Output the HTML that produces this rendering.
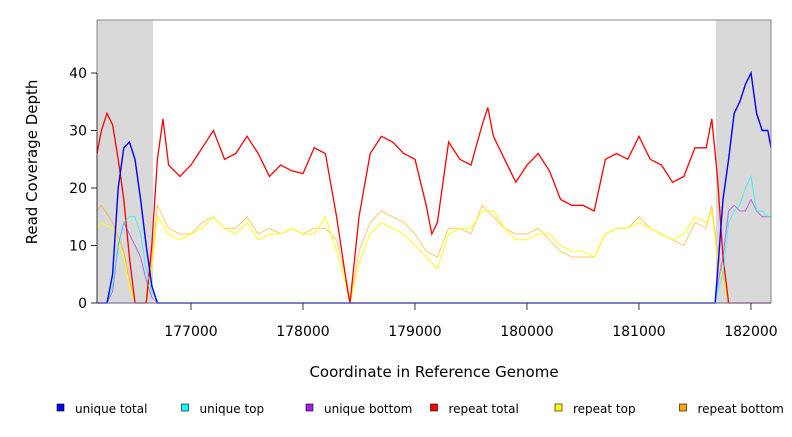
<!DOCTYPE html>
<html><head><meta charset="utf-8"><style>
body{margin:0;background:#fff;}
svg text{font-family:"DejaVu Sans","Liberation Sans",sans-serif;}
</style></head><body>
<svg id="chart" width="792" height="432" xmlns="http://www.w3.org/2000/svg">
<g id="bg"></g><g id="series"></g><g id="axes"></g><g id="legend"></g>
</svg>
<script>
const redX=[176161,176200,176250,176300,176350,176400,176450,176500,176600,176650,176700,176750,176800,176900,177000,177100,177200,177300,177400,177500,177600,177700,177800,177900,178000,178100,178200,178300,178400,178420,178500,178600,178700,178800,178900,179000,179100,179150,179200,179300,179400,179500,179600,179650,179700,179800,179900,180000,180100,180200,180300,180400,180500,180600,180700,180800,180900,181000,181100,181200,181300,181400,181500,181600,181650,181700,181750,181800,182179];
const redY=[26,30,33,31,25,18,8,0,0,10,25,32,24,22,24,27,30,25,26,29,26,22,24,23,22.5,27,26,15,2,0,15,26,29,28,26,25,17,12,14,28,25,24,31,34,29,25,21,24,26,23,18,17,17,16,25,26,25,29,25,24,21,22,27,27,32,22,8,0,0];
const topX=[176161,176200,176300,176400,176450,176500,176600,176650,176700,176800,176900,177000,177100,177200,177300,177400,177500,177600,177700,177800,177900,178000,178100,178200,178300,178400,178420,178500,178600,178700,178800,178900,179000,179100,179200,179300,179400,179500,179600,179700,179800,179900,180000,180100,180200,180300,180400,180500,180600,180700,180800,180900,181000,181100,181200,181300,181400,181500,181600,181650,181700,181800,182179];
const topY=[13,14,13,8,3,0,0,6,15,12,11,12,13,15,13,12,14,11,12,12,13,12,12,15,9,2,0,7,12,14,13,12,10,8,6,12,13,13,16,16,13,11,11,12,12,10,9,9,8,12,13,13,14,13,12,11,12,15,14,16,8,0,0];
const botY=[16,17,14,9,4,0,0,7,17,13,12,12,14,15,13,13,15,12,13,12,13,12,13,13,11,3,0,9,14,16,15,14,12,9,8,13,13,12,17,15,13,12,12,13,11,9,8,8,8,12,13,13,15,13,12,11,10,14,13,17,9,0,0];
const uniX=[176161,176250,176300,176350,176400,176450,176500,176550,176600,176650,176700,181680,181700,181750,181800,181850,181900,181950,182000,182050,182100,182150,182179];
const uTotY=[0,0,5,20,27,28,25,18,10,3,0,0,5,18,25,33,35,38,40,33,30,30,27];
const uTopY=[0,0,3,10,14,15,15,12,6,2,0,0,2,5,14,16,17,20,22,16,16,15,15];
const uBotY=[0,0,2,10,14,12,10,8,4,1,0,0,3,8,16,17,16,16,18,16,15,15,15];
const greyRegions=[[176161,176661],[181687,182179]];
const xTicks=[177000,178000,179000,180000,181000,182000];
const yTicks=[0,10,20,30,40];
const legendLabels=["unique total","unique top","unique bottom","repeat total","repeat top","repeat bottom"];
const legendColors=["#0000ff","#00ffff","#a020f0","#ff0000","#ffff00","#ffa500"];

const L=97,R=771,T=20,B=303;
const xs=c=>L+(c-176161)*(R-L)/(182179-176161);
const ys=v=>B-v*5.75;
const NS="http://www.w3.org/2000/svg";
function mk(tag,parent,attrs){const e=document.createElementNS(NS,tag);for(const k in attrs)e.setAttribute(k,attrs[k]);document.getElementById(parent).appendChild(e);return e;}

greyRegions.forEach(g=>{const r=mk('rect','bg',{x:xs(g[0]),y:T,width:xs(g[1])-xs(g[0]),height:B-T,fill:'#d9d9d9'});

});

function line(X,Y,col,w,op,name){let d='';X.forEach((x,i)=>{d+=(i?'L':'M')+xs(x).toFixed(1)+','+ys(Y[i]).toFixed(1);});
const p=mk('path','series',{d:d,fill:'none',stroke:col,'stroke-width':w,opacity:op});

}
line(topX,botY,'#ffa500',1,0.6,'repeat-bottom-line');
line(topX,topY,'#ffff00',1,0.9,'repeat-top-line');
line(redX,redY,'#ff0000',1.3,1,'repeat-total-line');
line(uniX,uBotY,'#a020f0',1,0.6,'unique-bottom-line');
line(uniX,uTopY,'#00ffff',1,0.7,'unique-top-line');
line(uniX,uTotY,'#0000ff',1.4,1,'unique-total-line');
const zl=mk('line','series',{x1:L,x2:R,y1:B,y2:B,stroke:'#5555ff','stroke-width':1.2});



const box=mk('rect','axes',{x:L,y:T,width:R-L,height:B-T,fill:'none',stroke:'#888','stroke-width':1});


const ya=mk('line','axes',{x1:L,x2:L,y1:ys(0),y2:ys(40),stroke:'#333'});


yTicks.forEach(v=>{const t=mk('line','axes',{x1:L-6,x2:L,y1:ys(v),y2:ys(v),stroke:'#333'});


const tx=mk('text','axes',{x:L-10,y:ys(v)+5,'text-anchor':'end','font-size':14,fill:'#000'});tx.textContent=v;

});
xTicks.forEach(v=>{const t=mk('line','axes',{x1:xs(v),x2:xs(v),y1:B,y2:B+7,stroke:'#333'});


const tx=mk('text','axes',{x:xs(v),y:336,'text-anchor':'middle','font-size':14,fill:'#000'});tx.textContent=v;

});
const xt=mk('text','axes',{x:434,y:377,'text-anchor':'middle','font-size':15,fill:'#000'});xt.textContent='Coordinate in Reference Genome';


const yt=mk('text','axes',{x:37,y:162,'text-anchor':'middle','font-size':15,fill:'#000',transform:'rotate(-90 37 162)'});yt.textContent='Read Coverage Depth';



legendLabels.forEach((lab,i)=>{const x0=57+i*124.5;
const s=mk('rect','legend',{x:x0,y:404,width:7,height:7,fill:legendColors[i],stroke:'#000','stroke-width':0.6});


const t=mk('text','legend',{x:x0+18,y:413,'font-size':12,fill:'#000'});t.textContent=lab;

});
</script>
</body></html>
